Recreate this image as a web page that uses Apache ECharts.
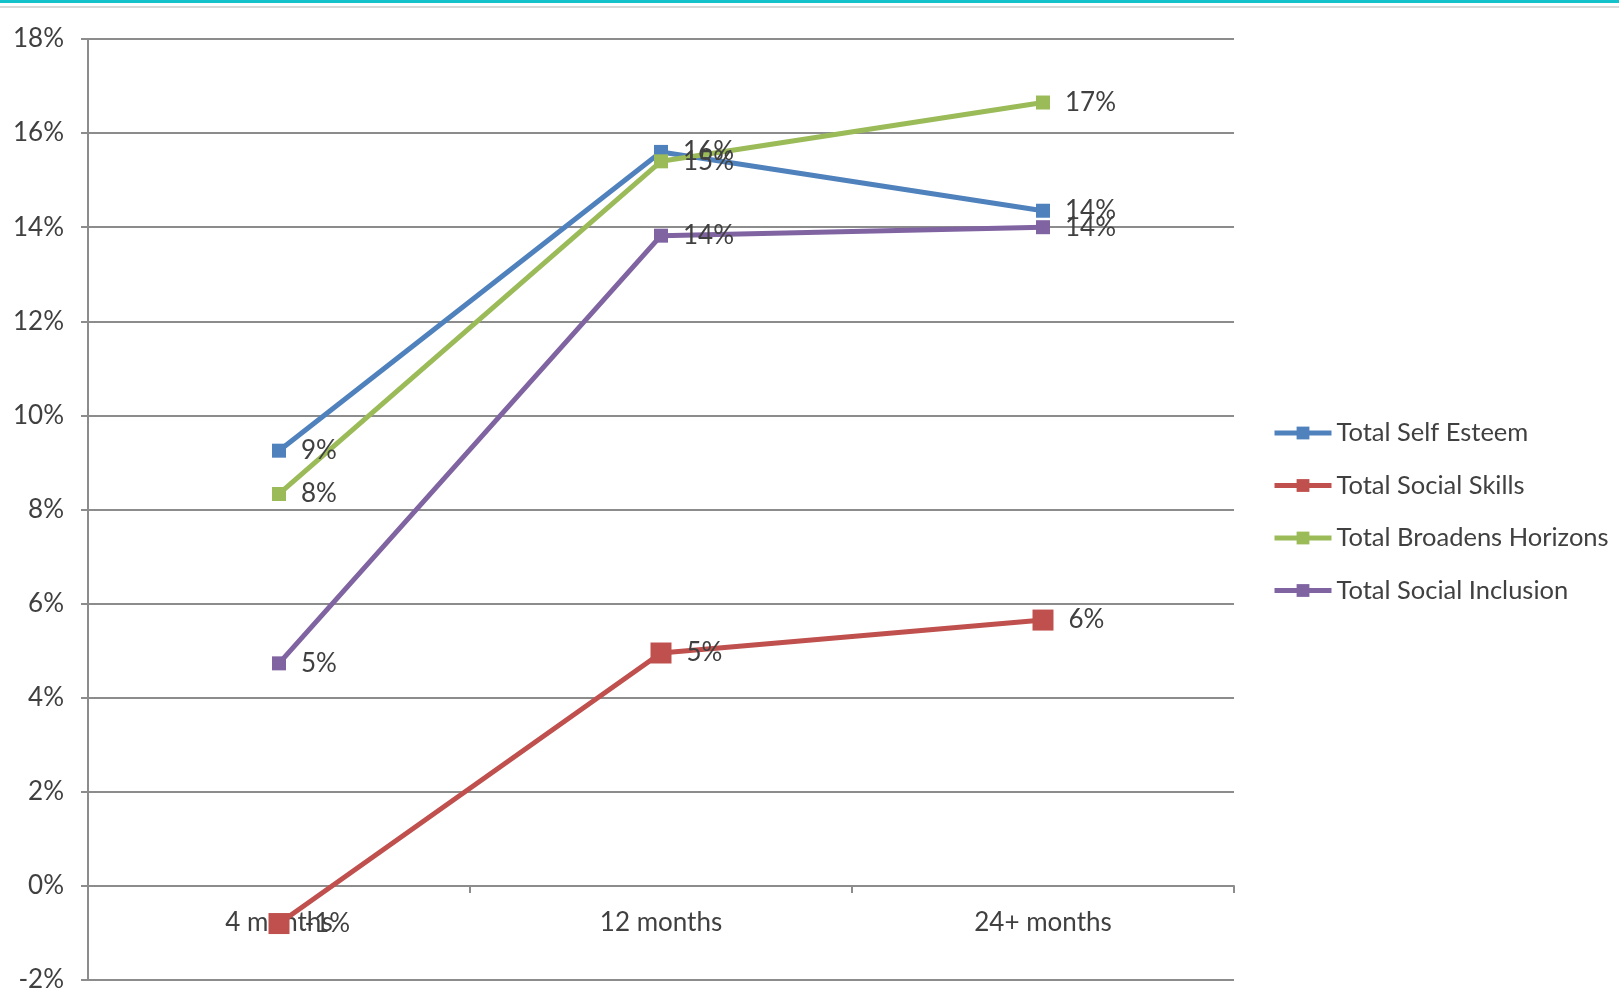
<!DOCTYPE html>
<html>
<head>
<meta charset="utf-8">
<script src="https://cdn.jsdelivr.net/npm/echarts@6/dist/echarts.min.js"></script>
<style>
html,body{margin:0;padding:0;background:#fff;}
#chart{width:1619px;height:996px;}
</style>
</head>
<body>
<div id="chart"></div>
<script>
// data
var categories=['4 months','12 months','24+ months'];
var selfEsteem=[9.25,15.6,14.35];
var socialSkills=[-0.8,4.95,5.65];
var broadensHorizons=[8.33,15.4,16.65];
var socialInclusion=[4.73,13.82,14.0];
var yTicks=[-2,0,2,4,6,8,10,12,14,16,18];

var labelFont='Lato';
var fs=26;
var gridTop=39,gridBottom=16;
// pixels for one 2% step, used to lift the category axis onto the 0% line
var step=(996-gridTop-gridBottom)/(yTicks.length-1);

function mkSeries(name,data,color,size)
{
  return {
    name:name,
    type:'line',
    data:data,
    symbol:'rect',
    symbolSize:size,
    lineStyle:{width:5,color:color},
    itemStyle:{color:color},
    label:{
      show:true,
      position:'right',
      distance:15,
      color:'#404040',
      fontFamily:labelFont,
      fontSize:fs,
      formatter:function(p){return Math.round(p.value)+'%';}
    },
    z:3
  };
}

var myChart=echarts.init(document.getElementById('chart'));
var option={
  animation:false,
  backgroundColor:'#fff',
  graphic:[
    {type:'rect',shape:{x:0,y:0,width:1619,height:3},style:{fill:'#13C2CB'}},
    {type:'rect',shape:{x:0,y:6,width:1619,height:2},style:{fill:'#DADADA'}}
  ],
  grid:{left:88,right:385,top:gridTop,bottom:gridBottom,containLabel:false,outerBoundsMode:'none'},
  legend:{
    orient:'vertical',
    left:1272,
    top:420,
    padding:0,
    itemWidth:57,
    itemHeight:16,
    itemGap:26.5,
    lineStyle:{width:5},
    textStyle:{fontFamily:labelFont,fontSize:25.5,color:'#404040'},
    data:['Total Self Esteem','Total Social Skills','Total Broadens Horizons','Total Social Inclusion']
  },
  xAxis:{
    type:'category',
    data:categories,
    boundaryGap:true,
    offset:-step,
    axisLine:{onZero:false,lineStyle:{color:'#8c8c8c',width:2}},
    axisTick:{show:true,interval:0,length:7,lineStyle:{color:'#8c8c8c',width:2}},
    axisLabel:{margin:24,color:'#404040',fontFamily:labelFont,fontSize:fs}
  },
  yAxis:{
    type:'value',
    min:yTicks[0],
    max:yTicks[yTicks.length-1],
    interval:2,
    axisLine:{show:true,lineStyle:{color:'#8c8c8c',width:2}},
    axisTick:{show:true,length:7,lineStyle:{color:'#8c8c8c',width:2}},
    splitLine:{show:true,lineStyle:{color:'#8c8c8c',width:2}},
    axisLabel:{margin:24,color:'#404040',fontFamily:labelFont,fontSize:fs,formatter:'{value}%'}
  },
  series:[
    mkSeries('Total Self Esteem',selfEsteem,'#4F81BD',14),
    mkSeries('Total Social Skills',socialSkills,'#C0504D',21),
    mkSeries('Total Broadens Horizons',broadensHorizons,'#9BBB59',14),
    mkSeries('Total Social Inclusion',socialInclusion,'#8064A2',14)
  ]
};
myChart.setOption(option);
</script>
</body>
</html>
